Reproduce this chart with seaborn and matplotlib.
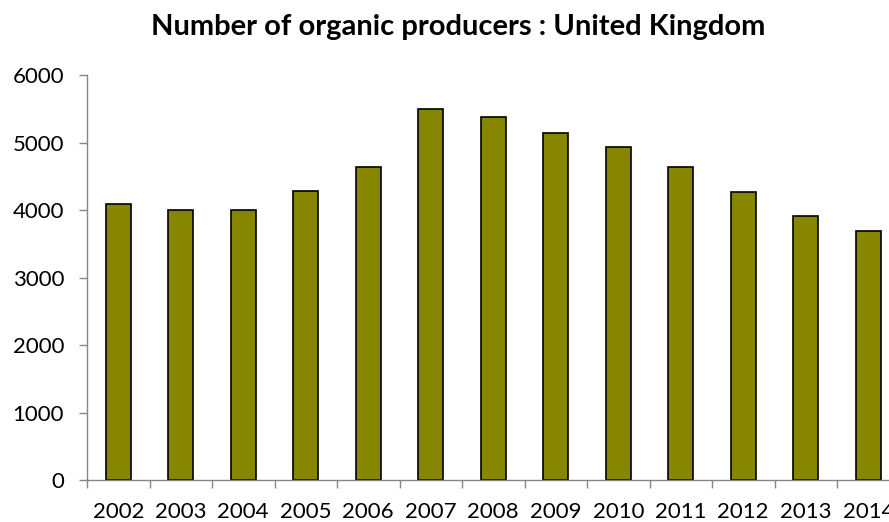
import matplotlib
matplotlib.use("Agg")
import matplotlib.pyplot as plt
import seaborn as sns
from matplotlib.ticker import FixedLocator, MultipleLocator

# Données du graphique
annees = ['2002', '2003', '2004', '2005', '2006', '2007', '2008',
          '2009', '2010', '2011', '2012', '2013', '2014']
producteurs = [4095, 4005, 4005, 4280, 4635, 5495, 5380,
               5150, 4940, 4645, 4270, 3915, 3690]
titre = "Number of organic producers : United Kingdom"

sns.set_style("white")
plt.rcParams['font.family'] = ['Lato', 'DejaVu Sans']

gris = '#868686'
fig = plt.figure(figsize=(8.89, 5.22), dpi=100)
ax = fig.add_axes([87 / 889, 42 / 522, 812.5 / 889, 404.7 / 522])

sns.barplot(x=annees, y=producteurs, color='#868600', saturation=1,
            width=0.4, edgecolor='black', linewidth=1.2, ax=ax)

ax.set_xlim(-0.5, len(annees) - 0.5)
ax.set_ylim(0, 6000)
ax.yaxis.set_major_locator(MultipleLocator(1000))
ax.set_xlabel('')
ax.set_ylabel('')

# ticks entre les catégories, comme dans Excel
ax.xaxis.set_minor_locator(FixedLocator([i - 0.5 for i in range(len(annees) + 1)]))
ax.tick_params(axis='x', which='major', length=0, pad=16, labelsize=16, colors='black')
ax.tick_params(axis='x', which='minor', length=6, width=1, color=gris, direction='out', bottom=True)
ax.tick_params(axis='y', length=5.5, width=1, color=gris, direction='out', left=True,
               pad=11, labelsize=16, labelcolor='black')

for cote in ['top', 'right']:
    ax.spines[cote].set_visible(False)
for cote in ['left', 'bottom']:
    ax.spines[cote].set_color(gris)
    ax.spines[cote].set_linewidth(1)

fig.text(458 / 889, (522 - 35) / 522, titre, ha='center', va='baseline',
         fontsize=21, fontweight='bold', color='black')

fig.savefig('out.png', dpi=100)
